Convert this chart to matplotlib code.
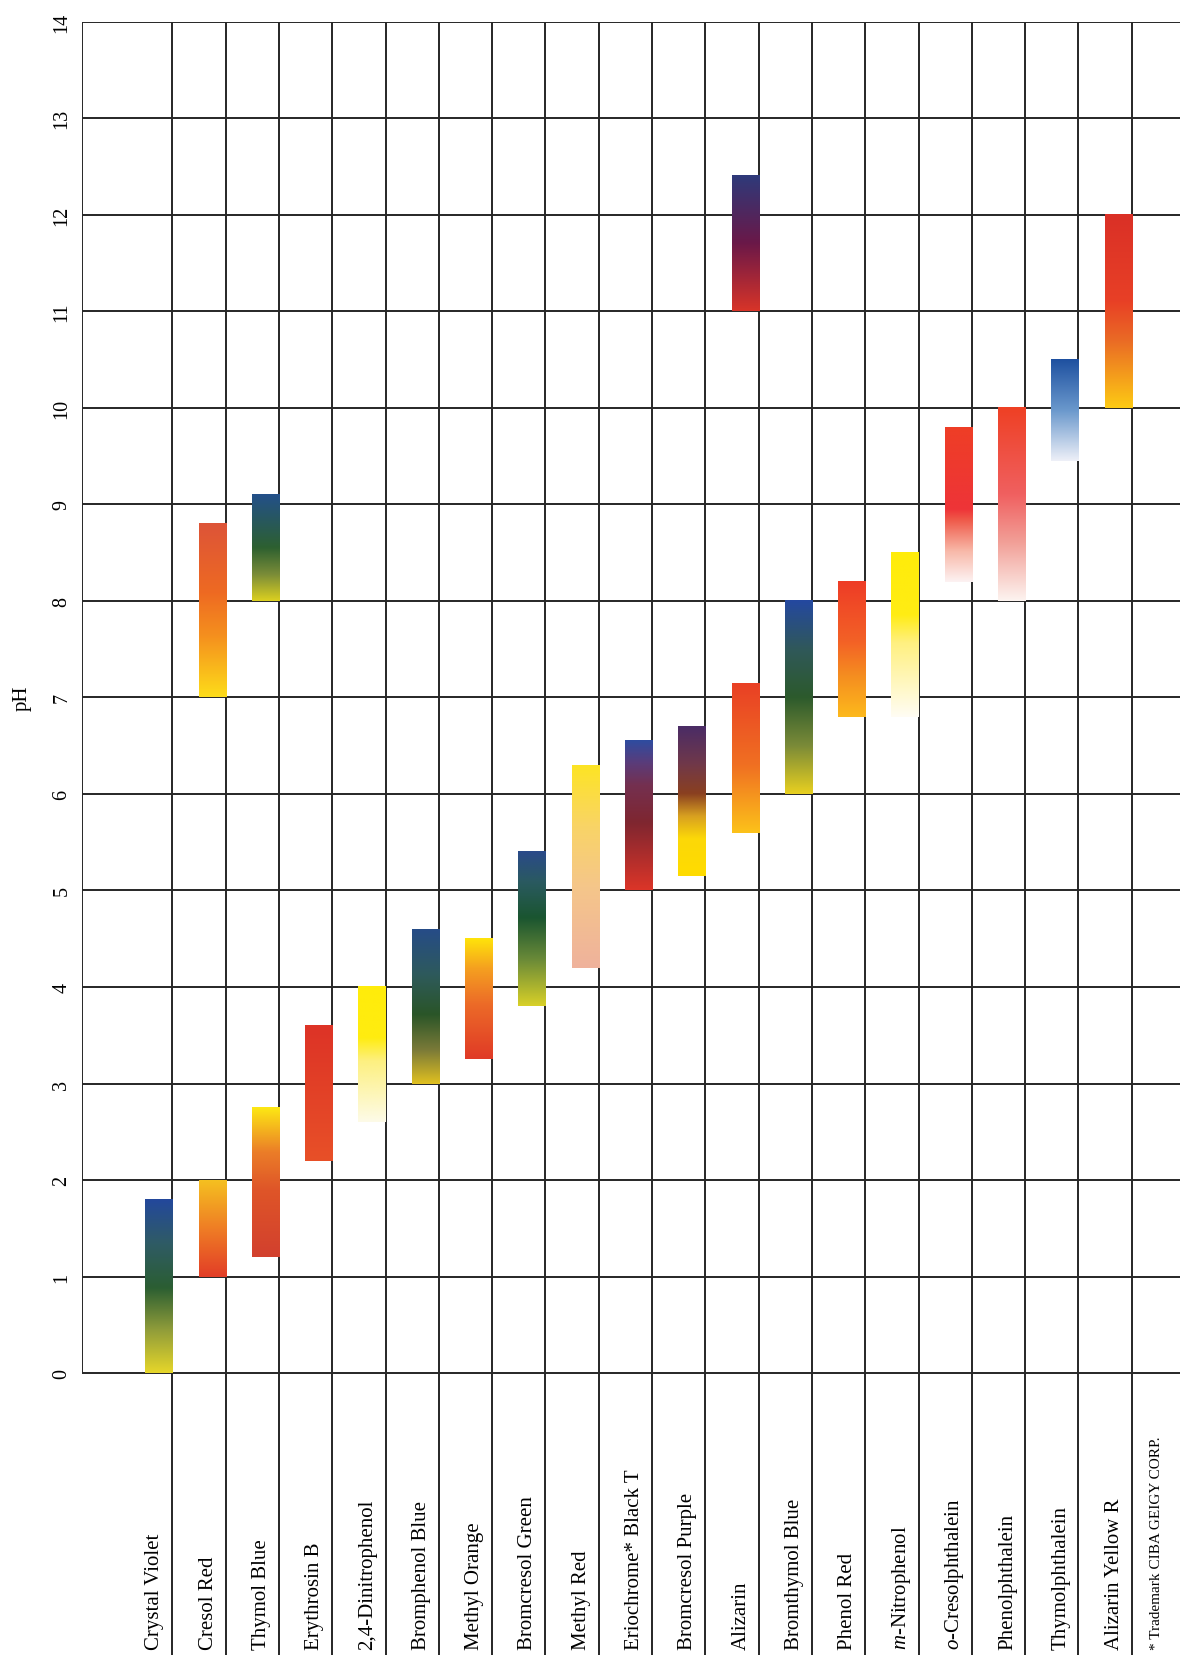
import numpy as np
import matplotlib
matplotlib.use("Agg")
import matplotlib.pyplot as plt
from matplotlib.colors import LinearSegmentedColormap

plt.rcParams['font.family'] = ['Liberation Serif', 'DejaVu Serif']
plt.rcParams['mathtext.fontset'] = 'custom'
plt.rcParams['mathtext.rm'] = 'Liberation Serif'
plt.rcParams['mathtext.it'] = 'Liberation Serif:italic'

# indicator names, one per column
indicators = ['Crystal Violet', 'Cresol Red', 'Thymol Blue', 'Erythrosin B',
              '2,4-Dinitrophenol', 'Bromphenol Blue', 'Methyl Orange',
              'Bromcresol Green', 'Methyl Red', 'Eriochrome* Black T',
              'Bromcresol Purple', 'Alizarin', 'Bromthymol Blue', 'Phenol Red',
              r'$\mathit{m}$-Nitrophenol', r'$\mathit{o}$-Cresolphthalein',
              'Phenolphthalein', 'Thymolphthalein', 'Alizarin Yellow R']

# transition ranges: column, low pH, high pH
range_col = [0, 1, 1, 2, 2, 3, 4, 5, 6, 7, 8, 9, 10, 11, 11, 12, 13, 14, 15, 16, 17, 18]
range_lo = [0.0, 1.0, 7.0, 1.2, 8.0, 2.2, 2.6, 3.0, 3.25, 3.8, 4.2, 5.0, 5.15,
            5.6, 11.0, 6.0, 6.8, 6.8, 8.2, 8.0, 9.45, 10.0]
range_hi = [1.8, 2.0, 8.8, 2.75, 9.1, 3.6, 4.0, 4.6, 4.5, 5.4, 6.3, 6.55, 6.7,
            7.15, 12.4, 8.0, 8.2, 8.5, 9.8, 10.0, 10.5, 12.0]

# colour stops from low pH (bottom) to high pH (top)
range_colors = [
    [(0, '#e6d62a'), (0.25, '#8f9c3a'), (0.49, '#2b5e32'), (0.75, '#2f5b66'), (1, '#23489c')],
    [(0, '#e23d27'), (0.5, '#ef7d25'), (1, '#f5c020')],
    [(0, '#fddc1a'), (0.35, '#f5901e'), (0.6, '#ee6a22'), (1, '#dd5438')],
    [(0, '#d2402e'), (0.45, '#df5528'), (0.7, '#eb7d28'), (1, '#fde814')],
    [(0, '#dcd020'), (0.25, '#7a8c38'), (0.5, '#2d6030'), (1, '#23508a')],
    [(0, '#e85028'), (1, '#dd3326')],
    [(0, '#fdfbe8'), (0.45, '#fdf080'), (0.62, '#ffec10'), (1, '#ffec0a')],
    [(0, '#e0c020'), (0.22, '#7a7a38'), (0.45, '#2a5528'), (0.7, '#2e5a5a'), (1, '#264c88')],
    [(0, '#e03a26'), (0.45, '#ec6a28'), (0.75, '#f5a020'), (1, '#ffe40a')],
    [(0, '#d8d028'), (0.3, '#6a8a38'), (0.57, '#1a5530'), (0.8, '#2a5a60'), (1, '#2a4a8a')],
    [(0, '#efb29c'), (0.4, '#f5c68a'), (0.7, '#f9d466'), (1, '#fde424')],
    [(0, '#dc3528'), (0.45, '#7f2630'), (0.7, '#743050'), (0.85, '#5a3c7a'), (1, '#2e4ca0')],
    [(0, '#ffdc00'), (0.25, '#fcd808'), (0.4, '#d8a020'), (0.55, '#8a4020'), (0.75, '#70384a'), (1, '#4a2c66')],
    [(0, '#fcc21a'), (0.45, '#f07022'), (1, '#e94025')],
    [(0, '#d83428'), (0.5, '#6a1848'), (1, '#2e3a7a')],
    [(0, '#e8d020'), (0.25, '#7a8a38'), (0.5, '#2c5a2c'), (0.75, '#30585a'), (1, '#2448a0')],
    [(0, '#fdb91c'), (0.3, '#f58e20'), (0.55, '#f36226'), (1, '#ee3c26')],
    [(0, '#fffdf4'), (0.45, '#fff080'), (0.62, '#ffec14'), (1, '#ffec0a')],
    [(0, '#fdf2f2'), (0.2, '#f8b8a8'), (0.4, '#ef5a4a'), (0.47, '#ee3438'), (1, '#ee3e26')],
    [(0, '#fdf4f0'), (0.3, '#f2a098'), (0.55, '#f06060'), (1, '#ee4024')],
    [(0, '#eef0f8'), (0.5, '#6a98cc'), (1, '#1e50a0')],
    [(0, '#fdca14'), (0.35, '#ea6a25'), (0.55, '#e84026'), (1, '#da3026')],
]

ph_ticks = list(range(0, 15))

fig = plt.figure(figsize=(11.8, 16.56), dpi=100)
ax = fig.add_axes([81.7 / 1180, 0, 1 - 81.7 / 1180, 1 - 22.7 / 1656])

x_left, x_right = -1.70, 18.906
y_bottom, y_top = -2.92, 14.0
line_kw = dict(color='#262626', linewidth=1.4)

# grid
ax.hlines(ph_ticks, x_left, x_right, zorder=1, **line_kw)
ax.vlines(range(len(indicators)), y_bottom, y_top, zorder=1, **line_kw)
ax.vlines([x_left], 0, y_top, zorder=1, **line_kw)

# gradient bars
bar_w = 0.507
grad = np.linspace(0, 1, 256).reshape(-1, 1)
for col, lo, hi, stops in zip(range_col, range_lo, range_hi, range_colors):
    cmap = LinearSegmentedColormap.from_list('c%d' % col, stops)
    ax.imshow(grad, cmap=cmap, origin='lower', aspect='auto',
              extent=[col - bar_w, col, lo, hi], zorder=2, interpolation='bilinear')

ax.set_xlim(x_left, x_right)
ax.set_ylim(y_bottom, y_top)
ax.set_aspect('auto')
ax.axis('off')

# pH tick labels
for t in ph_ticks:
    ax.text(-2.07, t, str(t), rotation=90, ha='center', va='center', fontsize=14.5)
ax.text(-2.82, 7, 'pH', rotation=90, ha='center', va='center', fontsize=15)

# indicator names
for i, name in enumerate(indicators):
    ax.text(i - 0.244, -2.86, name, rotation=90, rotation_mode='anchor',
            ha='left', va='baseline', fontsize=15)

ax.text(18.53, -2.86, '* Trademark CIBA GEIGY CORP.', rotation=90,
        rotation_mode='anchor', ha='left', va='baseline', fontsize=11)

fig.savefig('out.png', dpi=100)
